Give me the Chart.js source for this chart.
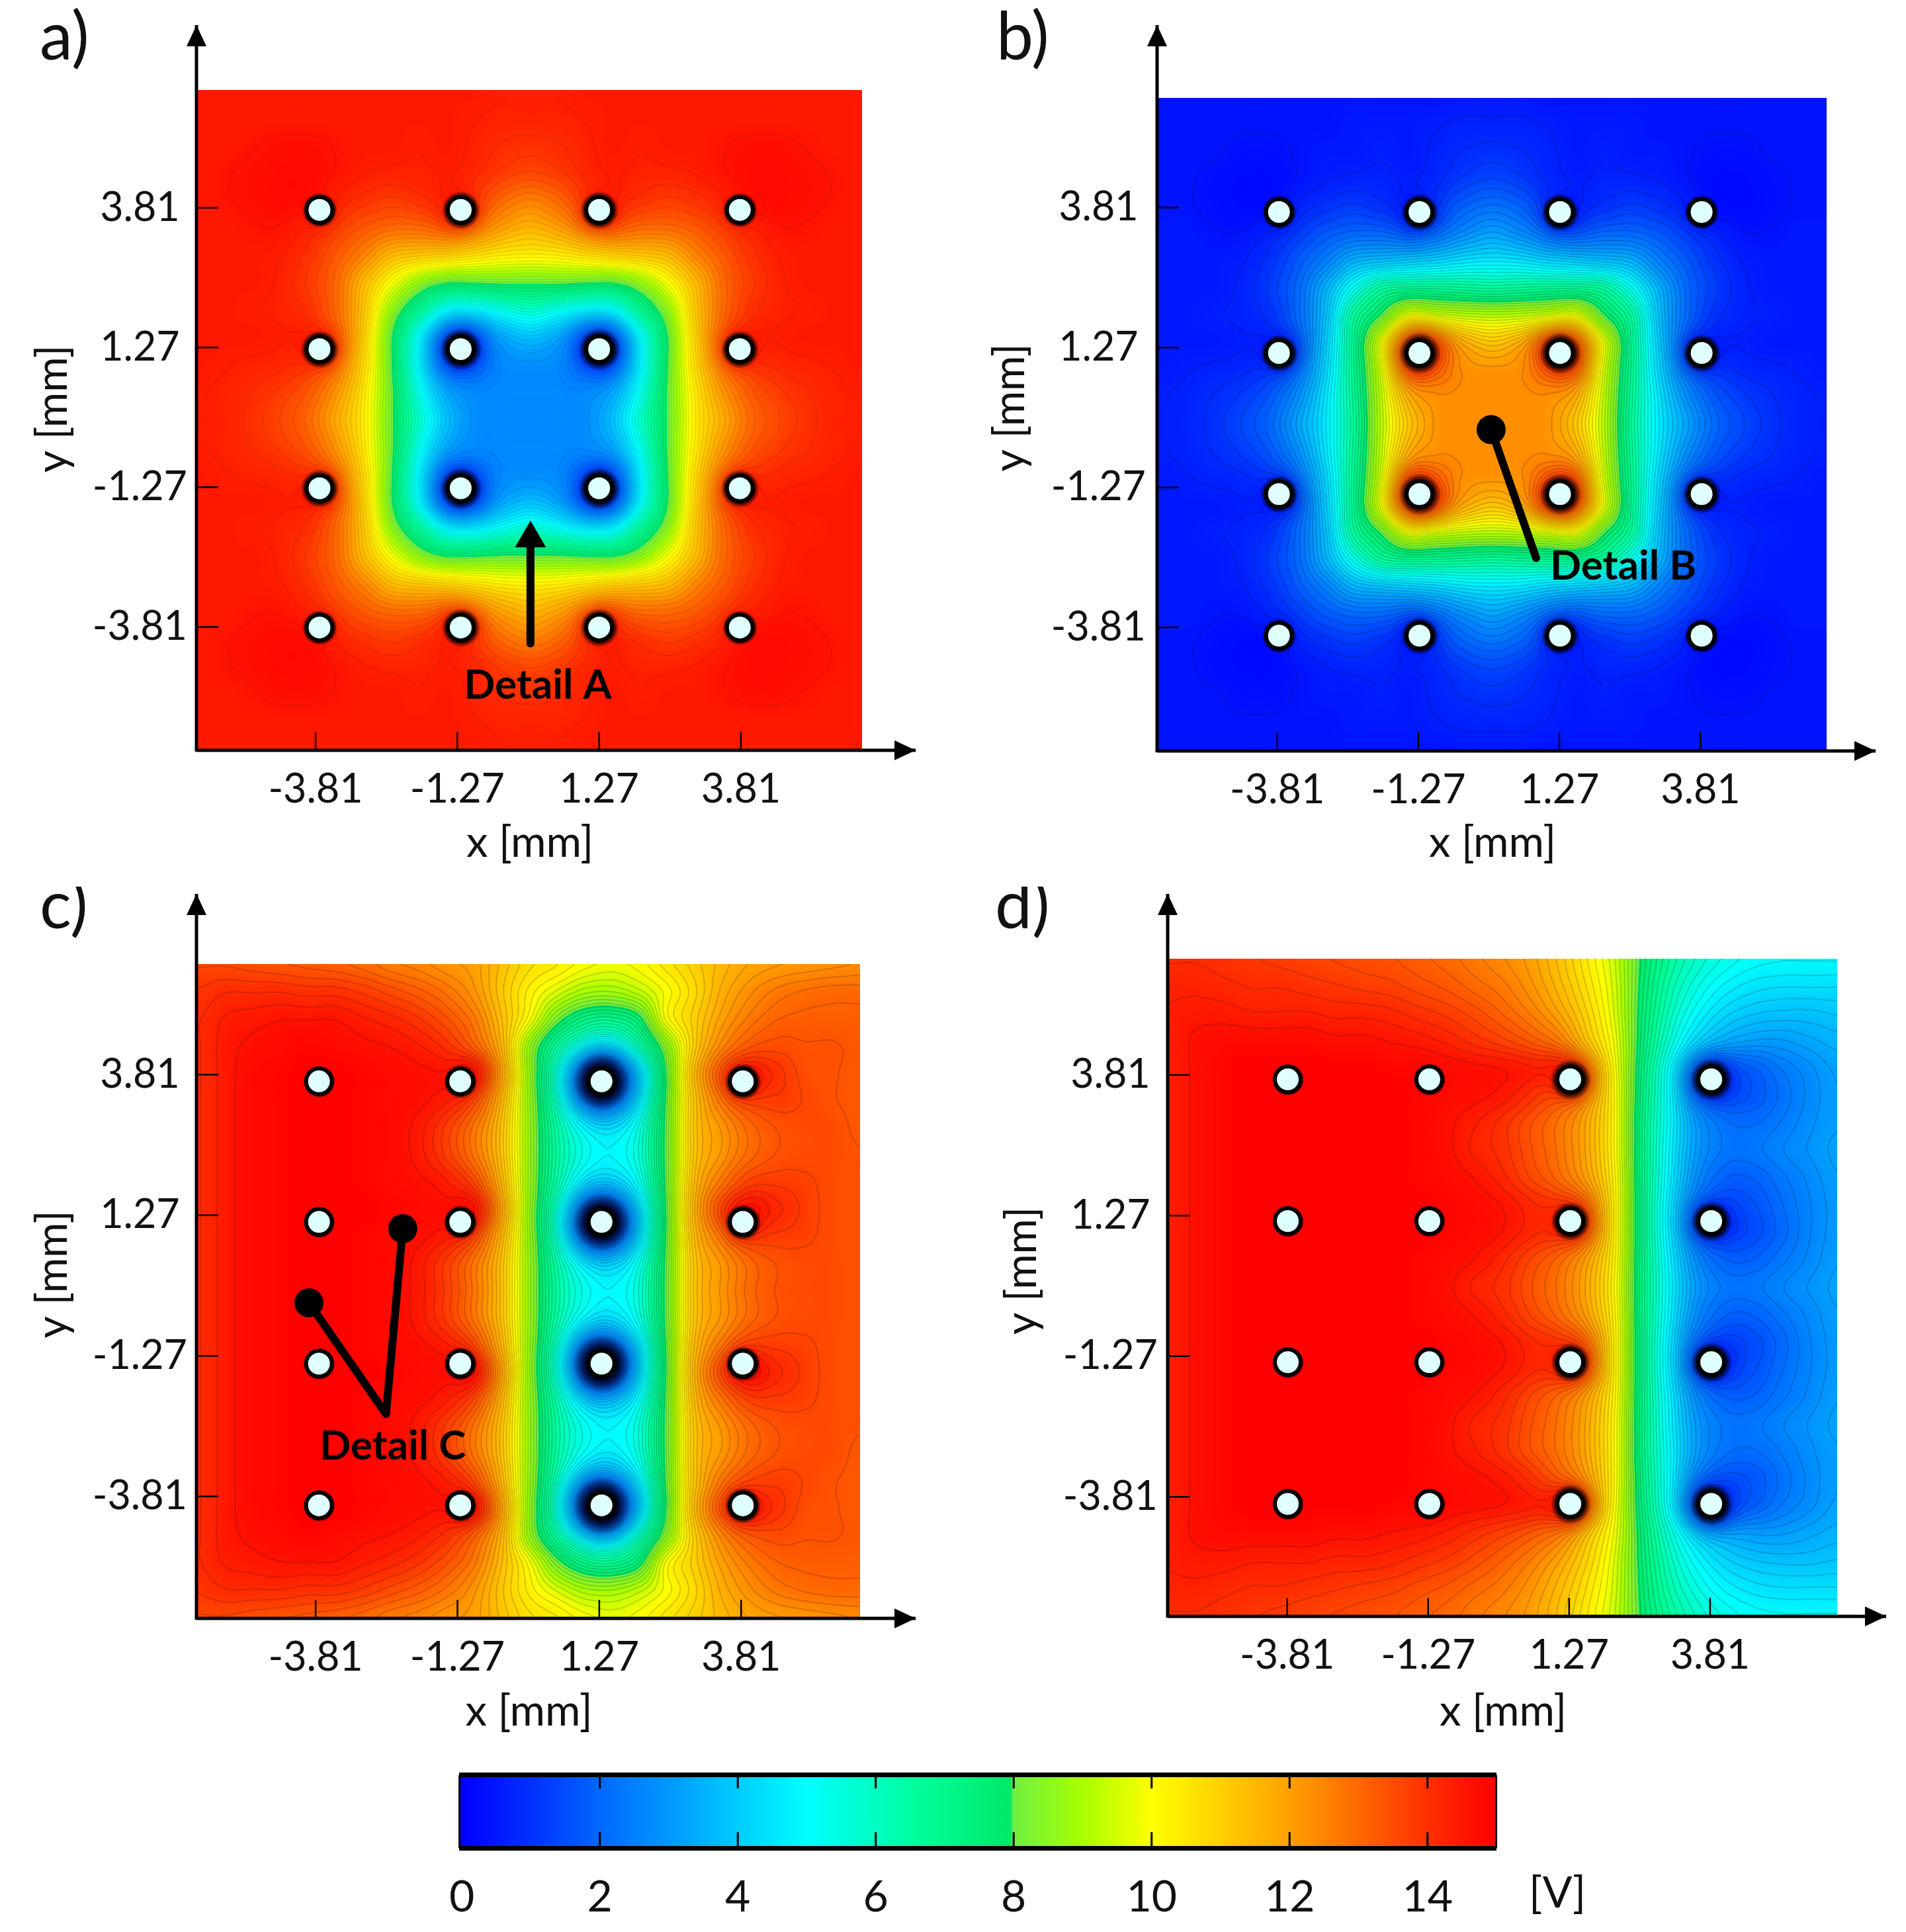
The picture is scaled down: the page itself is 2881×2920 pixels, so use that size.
<!doctype html>
<html>

<head>
    <title>Electrode potential maps</title>
    <script src="https://cdn.jsdelivr.net/npm/chart.js"></script>
    <style>
        body { margin: 0; background: #fff; }
        canvas { position: absolute; }
    </style>
</head>

<body>
    <canvas id="panelA" width="1440" height="1340" style="left:0;top:0"></canvas>
    <canvas id="panelB" width="1441" height="1340" style="left:1440px;top:0"></canvas>
    <canvas id="panelC" width="1440" height="1320" style="left:0;top:1340px"></canvas>
    <canvas id="panelD" width="1441" height="1320" style="left:1440px;top:1340px"></canvas>
    <canvas id="colorBar" width="1900" height="280" style="left:600px;top:2640px"></canvas>

    <script>
        const tickValues = [-3.81, -1.27, 1.27, 3.81];
        const barTicks = [0, 2, 4, 6, 8, 10, 12, 14];

        // colour scale, the jump at 8 V is in the original
        const colorValues = [0, 1, 2, 3, 5, 6.5, 7.95, 8, 9, 10, 11, 12, 13, 14, 15];
        const colorNames = ['#0000ff', '#0030ff', '#0068ff', '#0098ff', '#00ffff', '#00ffa0', '#00e868', '#70f040', '#a8ff00', '#ffff00', '#ffd000', '#ffa000', '#ff6800', '#ff3000', '#ff0000'];

        // potential, in 0.1 V, top row first, left column first
        const fieldA = [
            [145,145,145,145,145,145,145,145,145,145,145,144,144,144,145,145,145,145,145,145,145,145,145,145,145],
            [145,145,145,145,145,145,145,145,145,145,144,143,143,143,144,145,145,145,145,145,145,145,145,145,145],
            [145,145,146,147,147,146,145,145,144,145,143,141,140,141,143,145,144,145,145,146,147,147,146,145,145],
            [145,146,147,148,148,146,144,143,143,144,142,138,136,138,142,144,143,143,144,146,148,148,147,146,145],
            [145,146,147,148,147,143,140,138,140,142,137,130,126,130,137,142,140,138,140,143,147,148,147,146,145],
            [145,145,146,146,143,138,133,130,130,132,127,120,116,120,127,132,130,130,133,138,143,146,146,145,145],
            [145,145,145,144,140,133,125,115,112,110,107,104,103,104,107,110,112,115,125,133,140,144,145,145,145],
            [145,145,145,143,138,130,115,100,87,80,80,81,81,81,80,80,87,100,115,130,138,143,145,145,145],
            [145,145,144,143,140,130,112,87,68,50,48,53,58,53,48,50,68,87,112,130,140,143,144,145,145],
            [145,145,145,144,142,132,110,80,50,26,24,33,38,33,24,26,50,80,110,132,142,144,145,145,145],
            [145,144,143,142,138,128,108,80,48,24,22,27,28,27,22,24,48,80,108,128,138,142,143,144,145],
            [144,143,141,138,133,122,105,81,53,33,27,27,27,27,27,33,53,81,105,122,133,138,141,143,144],
            [144,143,140,136,130,118,104,81,58,38,28,27,27,27,28,38,58,81,104,118,130,136,140,143,144],
            [144,143,141,138,133,122,105,81,53,33,27,27,27,27,27,33,53,81,105,122,133,138,141,143,144],
            [145,144,143,142,138,128,108,80,48,24,22,27,28,27,22,24,48,80,108,128,138,142,143,144,145],
            [145,145,145,144,142,132,110,80,50,26,24,33,38,33,24,26,50,80,110,132,142,144,145,145,145],
            [145,145,144,143,140,130,112,87,68,50,48,53,58,53,48,50,68,87,112,130,140,143,144,145,145],
            [145,145,145,143,138,130,115,100,87,80,80,81,81,81,80,80,87,100,115,130,138,143,145,145,145],
            [145,145,145,144,140,133,125,115,112,110,107,104,103,104,107,110,112,115,125,133,140,144,145,145,145],
            [145,145,146,146,143,138,133,130,130,132,127,120,116,120,127,132,130,130,133,138,143,146,146,145,145],
            [145,146,147,148,147,143,140,138,140,142,137,130,126,130,137,142,140,138,140,143,147,148,147,146,145],
            [145,146,147,148,148,146,144,143,143,144,142,138,136,138,142,144,143,143,144,146,148,148,147,146,145],
            [145,145,146,147,147,146,145,145,144,145,143,141,140,141,143,145,144,145,145,146,147,147,146,145,145],
            [145,145,145,145,145,145,145,145,145,145,144,143,143,143,144,145,145,145,145,145,145,145,145,145,145],
            [145,145,145,145,145,145,145,145,145,145,145,144,144,144,145,145,145,145,145,145,145,145,145,145,145],
        ];
        const fieldB = [
            [4,4,4,4,4,4,4,4,4,4,4,5,5,5,4,4,4,4,4,4,4,4,4,4,4],
            [4,4,4,4,4,4,4,5,5,5,6,7,7,7,6,5,5,5,4,4,4,4,4,4,4],
            [4,4,4,3,3,4,5,5,6,5,7,9,10,9,7,5,6,5,5,4,3,3,4,4,4],
            [4,4,3,2,2,4,6,7,7,6,8,12,14,12,8,6,7,7,6,4,2,2,3,4,4],
            [4,4,3,2,3,7,10,12,10,8,13,19,22,19,13,8,10,12,10,7,3,2,3,4,4],
            [5,5,4,4,7,12,17,20,20,18,22,28,32,28,22,18,20,20,17,12,7,4,4,5,5],
            [5,5,5,6,10,17,25,35,38,40,42,45,46,45,42,40,38,35,25,17,10,6,5,5,5],
            [5,5,5,7,12,20,35,52,65,68,68,67,66,67,68,68,65,52,35,20,12,7,5,5,5],
            [5,5,6,7,10,20,38,65,80,97,95,93,92,93,95,97,80,65,38,20,10,7,6,5,5],
            [5,5,5,6,8,18,40,68,97,124,126,117,112,117,126,124,97,68,40,18,8,6,5,5,5],
            [5,6,7,8,12,22,42,68,95,126,128,123,122,123,128,126,95,68,42,22,12,8,7,6,5],
            [6,7,9,12,17,28,45,67,93,117,123,123,123,123,123,117,93,67,45,28,17,12,9,7,6],
            [6,7,10,14,20,32,46,66,92,112,122,123,123,123,122,112,92,66,46,32,20,14,10,7,6],
            [6,7,9,12,17,28,45,67,93,117,123,123,123,123,123,117,93,67,45,28,17,12,9,7,6],
            [5,6,7,8,12,22,42,68,95,126,128,123,122,123,128,126,95,68,42,22,12,8,7,6,5],
            [5,5,5,6,8,18,40,68,97,124,126,117,112,117,126,124,97,68,40,18,8,6,5,5,5],
            [5,5,6,7,10,20,38,65,80,97,95,93,92,93,95,97,80,65,38,20,10,7,6,5,5],
            [5,5,5,7,12,20,35,52,65,68,68,67,66,67,68,68,65,52,35,20,12,7,5,5,5],
            [5,5,5,6,10,17,25,35,38,40,42,45,46,45,42,40,38,35,25,17,10,6,5,5,5],
            [5,5,4,4,7,12,17,20,20,18,22,28,32,28,22,18,20,20,17,12,7,4,4,5,5],
            [4,4,3,2,3,7,10,12,10,8,13,19,22,19,13,8,10,12,10,7,3,2,3,4,4],
            [4,4,3,2,2,4,6,7,7,6,8,12,14,12,8,6,7,7,6,4,2,2,3,4,4],
            [4,4,4,3,3,4,5,5,6,5,7,9,10,9,7,5,6,5,5,4,3,3,4,4,4],
            [4,4,4,4,4,4,4,5,5,5,6,7,7,7,6,5,5,5,4,4,4,4,4,4,4],
            [4,4,4,4,4,4,4,4,4,4,4,5,5,5,4,4,4,4,4,4,4,4,4,4,4],
        ];
        const fieldC = [
            [136,136,135,134,133,132,130,127,125,122,120,113,107,104,100,98,100,105,110,115,119,121,122,123,124],
            [139,141,141,141,140,140,138,135,132,128,122,112,103,96,90,89,93,100,108,117,123,127,129,130,130],
            [141,144,145,146,146,146,144,142,139,134,127,114,100,83,74,72,78,100,110,120,127,131,132,132,132],
            [141,145,147,148,149,148,147,146,144,140,132,116,88,70,63,60,68,86,110,125,133,135,134,134,133],
            [141,145,148,149,150,150,149,148,147,146,146,120,88,66,53,50,56,82,114,134,143,140,135,134,133],
            [141,145,148,149,150,150,149,148,147,144,136,116,88,66,53,50,56,82,112,128,136,138,136,134,133],
            [141,145,148,149,150,150,149,148,145,138,128,113,88,66,54,50,57,82,112,122,130,134,135,135,133],
            [141,145,148,149,150,150,149,148,145,138,128,113,88,66,54,50,57,82,112,122,130,134,135,135,134],
            [141,145,148,149,150,150,149,148,147,144,136,116,88,66,53,50,56,82,114,128,137,138,137,135,134],
            [141,145,148,149,150,150,150,149,148,147,146,120,88,66,53,50,56,82,116,136,146,142,138,135,134],
            [141,145,148,149,150,150,149,148,147,144,136,116,88,66,53,50,56,82,114,128,137,138,137,135,134],
            [141,145,148,149,150,150,149,148,145,138,128,113,88,66,54,50,57,82,112,122,130,134,135,135,134],
            [141,145,148,149,150,150,149,148,145,138,128,113,88,66,54,50,57,82,112,122,130,134,135,135,134],
            [141,145,148,149,150,150,149,148,145,138,128,113,88,66,54,50,57,82,112,122,130,134,135,135,134],
            [141,145,148,149,150,150,149,148,147,144,136,116,88,66,53,50,56,82,114,128,137,138,137,135,134],
            [141,145,148,149,150,150,150,149,148,147,146,120,88,66,53,50,56,82,116,136,146,142,138,135,134],
            [141,145,148,149,150,150,149,148,147,144,136,116,88,66,53,50,56,82,114,128,137,138,137,135,134],
            [141,145,148,149,150,150,149,148,145,138,128,113,88,66,54,50,57,82,112,122,130,134,135,135,134],
            [141,145,148,149,150,150,149,148,145,138,128,113,88,66,54,50,57,82,112,122,130,134,135,135,133],
            [141,145,148,149,150,150,149,148,147,144,136,116,88,66,53,50,56,82,112,128,136,138,136,134,133],
            [141,145,148,149,150,150,149,148,147,146,146,120,88,66,53,50,56,82,114,134,143,140,135,134,133],
            [141,145,147,148,149,148,147,146,144,140,132,116,88,70,63,60,68,86,110,125,133,135,134,134,133],
            [141,144,145,146,146,146,144,142,139,134,127,114,100,83,74,72,78,100,110,120,127,131,132,132,132],
            [139,141,141,141,140,140,138,135,132,128,122,112,103,96,90,89,93,100,108,117,123,127,129,130,130],
            [136,136,135,134,133,132,130,127,125,122,120,113,107,104,100,98,100,105,110,115,119,121,122,123,124],
        ];
        const fieldD = [
            [141,141,140,139,138,137,136,135,134,132,130,127,124,120,113,104,94,78,66,58,53,50,49,49,49],
            [143,143,142,141,141,140,139,138,137,135,133,130,127,122,115,106,95,77,63,54,48,45,44,44,44],
            [144,145,145,144,144,144,143,143,142,140,138,135,131,126,119,109,96,76,60,49,42,39,38,38,39],
            [144,147,148,148,148,148,147,147,146,145,143,140,137,133,127,113,98,75,56,42,34,31,31,33,35],
            [144,147,149,150,150,150,150,150,149,149,148,147,146,144,140,122,100,73,50,30,19,19,24,28,32],
            [144,147,149,150,150,150,150,150,150,149,148,147,145,140,132,120,101,72,49,27,17,17,22,27,31],
            [144,147,149,150,150,150,150,150,150,149,147,144,140,134,128,118,101,71,49,30,22,21,24,28,31],
            [144,147,149,150,150,150,150,150,150,149,147,143,140,134,128,118,101,71,48,30,23,23,26,29,32],
            [144,147,149,150,150,150,150,150,150,149,148,146,142,136,130,120,102,71,47,27,19,19,23,27,31],
            [144,147,149,150,150,150,150,150,150,150,149,148,146,142,138,128,103,71,45,24,15,16,21,26,30],
            [144,147,149,150,150,150,150,150,150,150,149,148,146,142,138,128,103,71,45,23,14,15,20,26,30],
            [144,147,149,150,150,150,150,150,150,149,148,146,142,136,130,120,102,71,47,27,19,19,23,27,31],
            [144,147,149,150,150,150,150,150,150,149,147,143,140,134,128,118,101,71,48,30,23,23,26,29,32],
            [144,147,149,150,150,150,150,150,150,149,148,146,142,136,130,120,102,71,47,27,19,19,23,27,31],
            [144,147,149,150,150,150,150,150,150,150,149,148,146,142,138,128,103,71,45,23,14,15,20,26,30],
            [144,147,149,150,150,150,150,150,150,150,149,148,146,142,138,128,103,71,45,24,15,16,21,26,30],
            [144,147,149,150,150,150,150,150,150,149,148,146,142,136,130,120,102,71,47,27,19,19,23,27,31],
            [144,147,149,150,150,150,150,150,150,149,147,143,140,134,128,118,101,71,48,30,23,23,26,29,32],
            [144,147,149,150,150,150,150,150,150,149,147,144,140,134,128,118,101,71,49,30,22,21,24,28,31],
            [144,147,149,150,150,150,150,150,150,149,148,147,145,140,132,120,101,72,49,27,17,17,22,27,31],
            [144,147,149,150,150,150,150,150,149,149,148,147,146,144,140,122,100,73,50,30,19,19,24,28,32],
            [144,147,148,148,148,148,147,147,146,145,143,140,137,133,127,113,98,75,56,42,34,31,31,33,35],
            [144,145,145,144,144,144,143,143,142,140,138,135,131,126,119,109,96,76,60,49,42,39,38,38,39],
            [143,143,142,141,141,140,139,138,137,135,133,130,127,122,115,106,95,77,63,54,48,45,44,44,44],
            [141,141,140,139,138,137,136,135,134,132,130,127,124,120,113,104,94,78,66,58,53,50,49,49,49],
        ];

        // electrode positions in mm as they sit in each panel, and their voltage
        const pinXA = [-3.74, -1.21, 1.27, 3.79], pinYA = [3.77, 1.24, -1.29, -3.82];
        const pinXB = [-3.78, -1.25, 1.28, 3.83], pinYB = [3.73, 1.17, -1.39, -3.96];
        const pinXC = [-3.75, -1.22, 1.31, 3.84], pinYC = [3.69, 1.15, -1.41, -3.97];
        const pinXD = [-3.80, -1.25, 1.29, 3.83], pinYD = [3.73, 1.17, -1.38, -3.94];
        const pinVoltsA = [[15, 15, 15, 15], [15, 0, 0, 15], [15, 0, 0, 15], [15, 15, 15, 15]];
        const pinVoltsB = [[0, 0, 0, 0], [0, 15, 15, 0], [0, 15, 15, 0], [0, 0, 0, 0]];
        const pinVoltsC = [[15, 15, 0, 15], [15, 15, 0, 15], [15, 15, 0, 15], [15, 15, 0, 15]];
        const pinVoltsD = [[15, 15, 15, 0], [15, 15, 15, 0], [15, 15, 15, 0], [15, 15, 15, 0]];

        // callouts, in mm
        const detailA = [{ x: 0.04, y: -4.11 }, { x: 0.04, y: -2.20 }];
        const detailB = [{ x: 0.04, y: -0.22 }, { x: 0.85, y: -2.55 }];
        const detailC = [{ x: -2.25, y: 1.03 }, { x: -2.55, y: -2.32 }, { x: -3.93, y: -0.31 }];

        const fontName = 'Lato';
        const inkColor = '#111';

        function hexToRgb(hex) {
            return [1, 3, 5].map(i => parseInt(hex.slice(i, i + 2), 16));
        }

        // lookup table, 0.01 V per entry
        const colorTable = [];
        for (let i = 0; i <= 1500; i++) {
            const v = i / 100;
            let k = 0;
            while (k < colorValues.length - 2 && v > colorValues[k + 1]) k++;
            const t = (v - colorValues[k]) / (colorValues[k + 1] - colorValues[k]);
            const a = hexToRgb(colorNames[k]), b = hexToRgb(colorNames[k + 1]);
            colorTable.push([0, 1, 2].map(c => a[c] + (b[c] - a[c]) * t));
        }

        function catmull(t) {
            const t2 = t * t, t3 = t2 * t;
            return [-0.5 * t3 + t2 - 0.5 * t, 1.5 * t3 - 2.5 * t2 + 1, -1.5 * t3 + 2 * t2 + 0.5 * t, 0.5 * t3 - 0.5 * t2];
        }

        function cellWeights(pos, count) {
            const i = Math.min(Math.max(Math.floor(pos), 0), count - 2);
            const idx = [i - 1, i, i + 1, i + 2].map(n => Math.min(Math.max(n, 0), count - 1));
            return { idx, w: catmull(pos - i) };
        }

        function renderField(chart, panel) {
            const area = chart.chartArea, xs = chart.scales.x, ys = chart.scales.y;
            const w = Math.round(area.width), h = Math.round(area.height);
            const rows = panel.field.length, cols = panel.field[0].length;
            const colW = [], rowW = [];
            for (let i = 0; i < w; i++) {
                const val = xs.getValueForPixel(area.left + i + 0.5);
                colW.push(cellWeights((val - xs.min) / (xs.max - xs.min) * (cols - 1), cols));
            }
            for (let j = 0; j < h; j++) {
                const val = ys.getValueForPixel(area.top + j + 0.5);
                rowW.push(cellWeights((ys.max - val) / (ys.max - ys.min) * (rows - 1), rows));
            }
            const volts = new Float32Array(w * h), shade = new Float32Array(w * h).fill(1);
            for (let j = 0; j < h; j++) {
                const rw = rowW[j];
                for (let i = 0; i < w; i++) {
                    const cw = colW[i];
                    let sum = 0;
                    for (let a = 0; a < 4; a++) {
                        const row = panel.field[rw.idx[a]];
                        let line = 0;
                        for (let b = 0; b < 4; b++) line += row[cw.idx[b]] * cw.w[b];
                        sum += line * rw.w[a];
                    }
                    volts[j * w + i] = sum / 10;
                }
            }
            // the potential runs to the electrode voltage close to each pin
            panel.pinY.forEach((py, r) => panel.pinX.forEach((px, c) => {
                const cx = xs.getPixelForValue(px) - area.left, cy = ys.getPixelForValue(py) - area.top;
                const ci = Math.round(cx), cj = Math.round(cy);
                const volt = panel.pinVolts[r][c];
                const diff = Math.abs(volt - volts[cj * w + ci]) / 15;
                const reach = (0.2 + 1.2 * diff) * 84;
                const darkWidth = Math.min(24, 4 + 60 * diff);
                const box = Math.ceil(reach * 2.5);
                for (let j = Math.max(cj - box, 0); j < Math.min(cj + box, h); j++) {
                    for (let i = Math.max(ci - box, 0); i < Math.min(ci + box, w); i++) {
                        const d = Math.hypot(i - cx, j - cy);
                        const m = Math.exp(-(d / reach) * (d / reach));
                        const n = j * w + i;
                        volts[n] = volts[n] * (1 - m) + volt * m;
                        if (d < 20 + darkWidth) shade[n] *= Math.max(0, (d - 20) / darkWidth);
                    }
                }
            }));
            const image = new ImageData(w, h);
            const step = 0.25;
            for (let j = 0; j < h; j++) {
                for (let i = 0; i < w; i++) {
                    const n = j * w + i;
                    const v = Math.min(Math.max(volts[n], 0), 15);
                    const col = colorTable[Math.round(v * 100)];
                    const gx = (volts[j * w + Math.min(i + 1, w - 1)] - volts[j * w + Math.max(i - 1, 0)]) / 2;
                    const gy = (volts[Math.min(j + 1, h - 1) * w + i] - volts[Math.max(j - 1, 0) * w + i]) / 2;
                    const grad = Math.hypot(gx, gy);
                    let line = 1;
                    if (grad > 0.002 && v < 14.75) {
                        const t = (v - step / 2) / step;
                        const dist = Math.abs(t - Math.round(t)) * step / grad;
                        line = 1 - panel.lineDepth * Math.max(0, 1 - dist / 1.6);
                    }
                    const k = line * shade[n];
                    image.data[n * 4] = col[0] * k;
                    image.data[n * 4 + 1] = col[1] * k;
                    image.data[n * 4 + 2] = col[2] * k;
                    image.data[n * 4 + 3] = 255;
                }
            }
            const off = document.createElement('canvas');
            off.width = w;
            off.height = h;
            off.getContext('2d').putImageData(image, 0, 0);
            return off;
        }

        function arrowLine(ctx, x0, y0, x1, y1) {
            ctx.beginPath();
            ctx.moveTo(x0, y0);
            ctx.lineTo(x1, y1);
            ctx.stroke();
            const ang = Math.atan2(y1 - y0, x1 - x0);
            ctx.save();
            ctx.translate(x1, y1);
            ctx.rotate(ang);
            ctx.beginPath();
            ctx.moveTo(0, 0);
            ctx.lineTo(-32, -15);
            ctx.lineTo(-32, 15);
            ctx.closePath();
            ctx.fill();
            ctx.restore();
        }

        function makePanel(id, panel) {
            const canvas = document.getElementById(id);
            let fieldImage = null;
            const panelPlugin = {
                id: 'panelPlugin',
                beforeDatasetsDraw(chart) {
                    if (!fieldImage) fieldImage = renderField(chart, panel);
                    chart.ctx.drawImage(fieldImage, chart.chartArea.left, chart.chartArea.top);
                },
                afterDraw(chart) {
                    const { ctx, chartArea: { top, bottom, left }, scales: { x, y } } = chart;
                    ctx.save();
                    ctx.strokeStyle = '#000';
                    ctx.fillStyle = '#000';
                    ctx.lineWidth = 5;
                    arrowLine(ctx, left - 2, bottom + 1, panel.xTip, bottom + 1);
                    arrowLine(ctx, left - 2, bottom + 3, left - 2, panel.yTip);
                    ctx.lineWidth = 2.5;
                    tickValues.forEach(v => {
                        ctx.beginPath();
                        ctx.moveTo(x.getPixelForValue(v), bottom);
                        ctx.lineTo(x.getPixelForValue(v), bottom - 27);
                        ctx.moveTo(left, y.getPixelForValue(v));
                        ctx.lineTo(left + 31, y.getPixelForValue(v));
                        ctx.stroke();
                    });
                    ctx.fillStyle = inkColor;
                    ctx.textBaseline = 'alphabetic';
                    ctx.textAlign = 'left';
                    ctx.font = '100px ' + fontName;
                    ctx.fillText(panel.letter, panel.letterX, panel.letterY);
                    if (panel.detailText) {
                        ctx.fillStyle = '#000';
                        ctx.textBaseline = 'middle';
                        ctx.textAlign = panel.detailAlign;
                        ctx.font = 'bold 62px ' + fontName;
                        ctx.fillText(panel.detailText, x.getPixelForValue(panel.detailX), y.getPixelForValue(panel.detailY));
                    }
                    ctx.restore();
                }
            };
            const pins = [];
            panel.pinY.forEach(py => panel.pinX.forEach(px => pins.push({ x: px, y: py })));
            return new Chart(canvas.getContext('2d'), {
                type: 'scatter',
                data: {
                    datasets: [{
                        label: 'detail',
                        data: panel.detail,
                        showLine: true,
                        borderColor: '#000',
                        borderWidth: 12,
                        borderJoinStyle: 'round',
                        borderCapStyle: 'round',
                        backgroundColor: '#000',
                        pointStyle: panel.detailPoint,
                        pointBorderWidth: 0,
                        pointRadius: panel.detailRadius
                    }, {
                        label: 'electrodes',
                        data: pins,
                        pointRadius: 19.5,
                        pointBorderWidth: 6,
                        pointBorderColor: '#000',
                        pointBackgroundColor: '#e0ffff'
                    }]
                },
                options: {
                    responsive: false,
                    animation: false,
                    layout: { padding: { top: panel.top, right: canvas.width - panel.right, left: 0, bottom: 0 } },
                    plugins: { legend: { display: false }, tooltip: { enabled: false } },
                    scales: {
                        x: {
                            type: 'linear',
                            min: panel.xLimits[0],
                            max: panel.xLimits[1],
                            grid: { display: false },
                            border: { display: false },
                            afterBuildTicks: axis => { axis.ticks = tickValues.map(v => ({ value: v })); },
                            afterFit: axis => { axis.height = canvas.height - panel.bottom; },
                            ticks: {
                                autoSkip: false,
                                maxRotation: 0,
                                padding: 16,
                                color: inkColor,
                                font: { family: fontName, size: 61 },
                                callback: v => String(v)
                            },
                            title: {
                                display: true,
                                text: 'x [mm]',
                                color: inkColor,
                                font: { family: fontName, size: 65 },
                                padding: { bottom: panel.xTitlePad, top: 0 }
                            }
                        },
                        y: {
                            type: 'linear',
                            min: panel.yLimits[0],
                            max: panel.yLimits[1],
                            grid: { display: false },
                            border: { display: false },
                            afterBuildTicks: axis => { axis.ticks = tickValues.map(v => ({ value: v })); },
                            afterFit: axis => { axis.width = panel.left; },
                            ticks: {
                                autoSkip: false,
                                padding: panel.yTickPad,
                                crossAlign: 'center',
                                color: inkColor,
                                font: { family: fontName, size: 61 },
                                callback: v => String(v)
                            },
                            title: {
                                display: true,
                                text: panel.yTitle,
                                color: inkColor,
                                font: { family: fontName, size: 65 },
                                padding: { top: panel.yTitlePad, bottom: 0 }
                            }
                        }
                    }
                },
                plugins: [panelPlugin]
            });
        }

        makePanel('panelA', {
            field: fieldA, pinX: pinXA, pinY: pinYA, pinVolts: pinVoltsA, lineDepth: 0.1,
            left: 299, right: 1303, top: 136, bottom: 1133,
            xLimits: [-5.92, 5.98], yLimits: [-6.04, 5.95],
            xTip: 1384, yTip: 38, letter: 'a)', letterX: 60, letterY: 90,
            xTitlePad: 27, yTitlePad: 41, yTickPad: 8, yTitle: '  y [mm]',
            detail: detailA, detailPoint: 'triangle', detailRadius: [0, 27],
            detailText: 'Detail A', detailX: 0.17, detailY: -4.87, detailAlign: 'center'
        });
        makePanel('panelB', {
            field: fieldB, pinX: pinXB, pinY: pinYB, pinVolts: pinVoltsB, lineDepth: 0.2,
            left: 311, right: 1321, top: 148, bottom: 1134,
            xLimits: [-5.95, 6.08], yLimits: [-6.04, 5.80],
            xTip: 1395, yTip: 38, letter: 'b)', letterX: 66, letterY: 90,
            xTitlePad: 27, yTitlePad: 48, yTickPad: 11, yTitle: '   y [mm]',
            detail: detailB, detailPoint: 'circle', detailRadius: [22, 0],
            detailText: 'Detail B', detailX: 1.10, detailY: -2.70, detailAlign: 'left'
        });
        makePanel('panelC', {
            field: fieldC, pinX: pinXC, pinY: pinYC, pinVolts: pinVoltsC, lineDepth: 0.2,
            left: 299, right: 1300, top: 117, bottom: 1105,
            xLimits: [-5.92, 5.94], yLimits: [-6.0, 5.81],
            xTip: 1384, yTip: 11, letter: 'c)', letterX: 60, letterY: 63,
            xTitlePad: 34, yTitlePad: 41, yTickPad: 8, yTitle: '   y [mm]',
            detail: detailC, detailPoint: 'circle', detailRadius: [22, 0, 22],
            detailText: 'Detail C', detailX: -2.43, detailY: -2.90, detailAlign: 'center'
        });
        makePanel('panelD', {
            field: fieldD, pinX: pinXD, pinY: pinYD, pinVolts: pinVoltsD, lineDepth: 0.2,
            left: 327, right: 1337, top: 109, bottom: 1102,
            xLimits: [-5.94, 6.10], yLimits: [-5.96, 5.91],
            xTip: 1411, yTip: 11, letter: 'd)', letterX: 64, letterY: 63,
            xTitlePad: 34, yTitlePad: 66, yTickPad: 9, yTitle: '   y [mm]',
            detail: [], detailPoint: 'circle', detailRadius: 0
        });

        // colour bar
        const barCanvas = document.getElementById('colorBar');
        const barFrame = {
            id: 'barFrame',
            afterDraw(chart) {
                const { ctx, chartArea: { top, bottom, left, right }, scales: { x } } = chart;
                ctx.save();
                ctx.fillStyle = '#000';
                ctx.fillRect(left, top - 4, right - left, 7);
                ctx.fillRect(left, bottom - 3, right - left, 7);
                ctx.fillRect(left - 1, top, 3, bottom - top);
                ctx.fillRect(right - 2, top, 3, bottom - top);
                barTicks.slice(1).forEach(v => {
                    const px = x.getPixelForValue(v);
                    ctx.fillRect(px - 1.5, top, 3, 20);
                    ctx.fillRect(px - 1.5, bottom - 24, 3, 24);
                });
                ctx.fillStyle = inkColor;
                ctx.font = '66px ' + fontName;
                ctx.textAlign = 'center';
                ctx.textBaseline = 'middle';
                ctx.fillText('[V]', 1754, 222);
                ctx.restore();
            }
        };
        new Chart(barCanvas.getContext('2d'), {
            type: 'bar',
            data: {
                labels: ['V'],
                datasets: [{
                    data: [[-0.04, 15]],
                    barPercentage: 1,
                    categoryPercentage: 1,
                    backgroundColor(context) {
                        const { chart } = context;
                        if (!chart.chartArea) return '#fff';
                        const x = chart.scales.x;
                        const g = chart.ctx.createLinearGradient(x.getPixelForValue(0), 0, x.getPixelForValue(15), 0);
                        colorValues.forEach((v, i) => g.addColorStop(v / 15, colorNames[i]));
                        return g;
                    }
                }]
            },
            options: {
                indexAxis: 'y',
                responsive: false,
                animation: false,
                layout: { padding: { top: 43, left: 94, right: 238, bottom: 0 } },
                plugins: { legend: { display: false }, tooltip: { enabled: false } },
                scales: {
                    y: { display: false },
                    x: {
                        type: 'linear',
                        min: -0.04,
                        max: 15,
                        grid: { display: false },
                        border: { display: false },
                        afterBuildTicks: axis => { axis.ticks = barTicks.map(v => ({ value: v })); },
                        afterFit: axis => { axis.height = 127; },
                        ticks: {
                            autoSkip: false,
                            maxRotation: 0,
                            padding: 27,
                            color: inkColor,
                            font: { family: fontName, size: 66 }
                        }
                    }
                }
            },
            plugins: [barFrame]
        });
    </script>
</body>

</html>
